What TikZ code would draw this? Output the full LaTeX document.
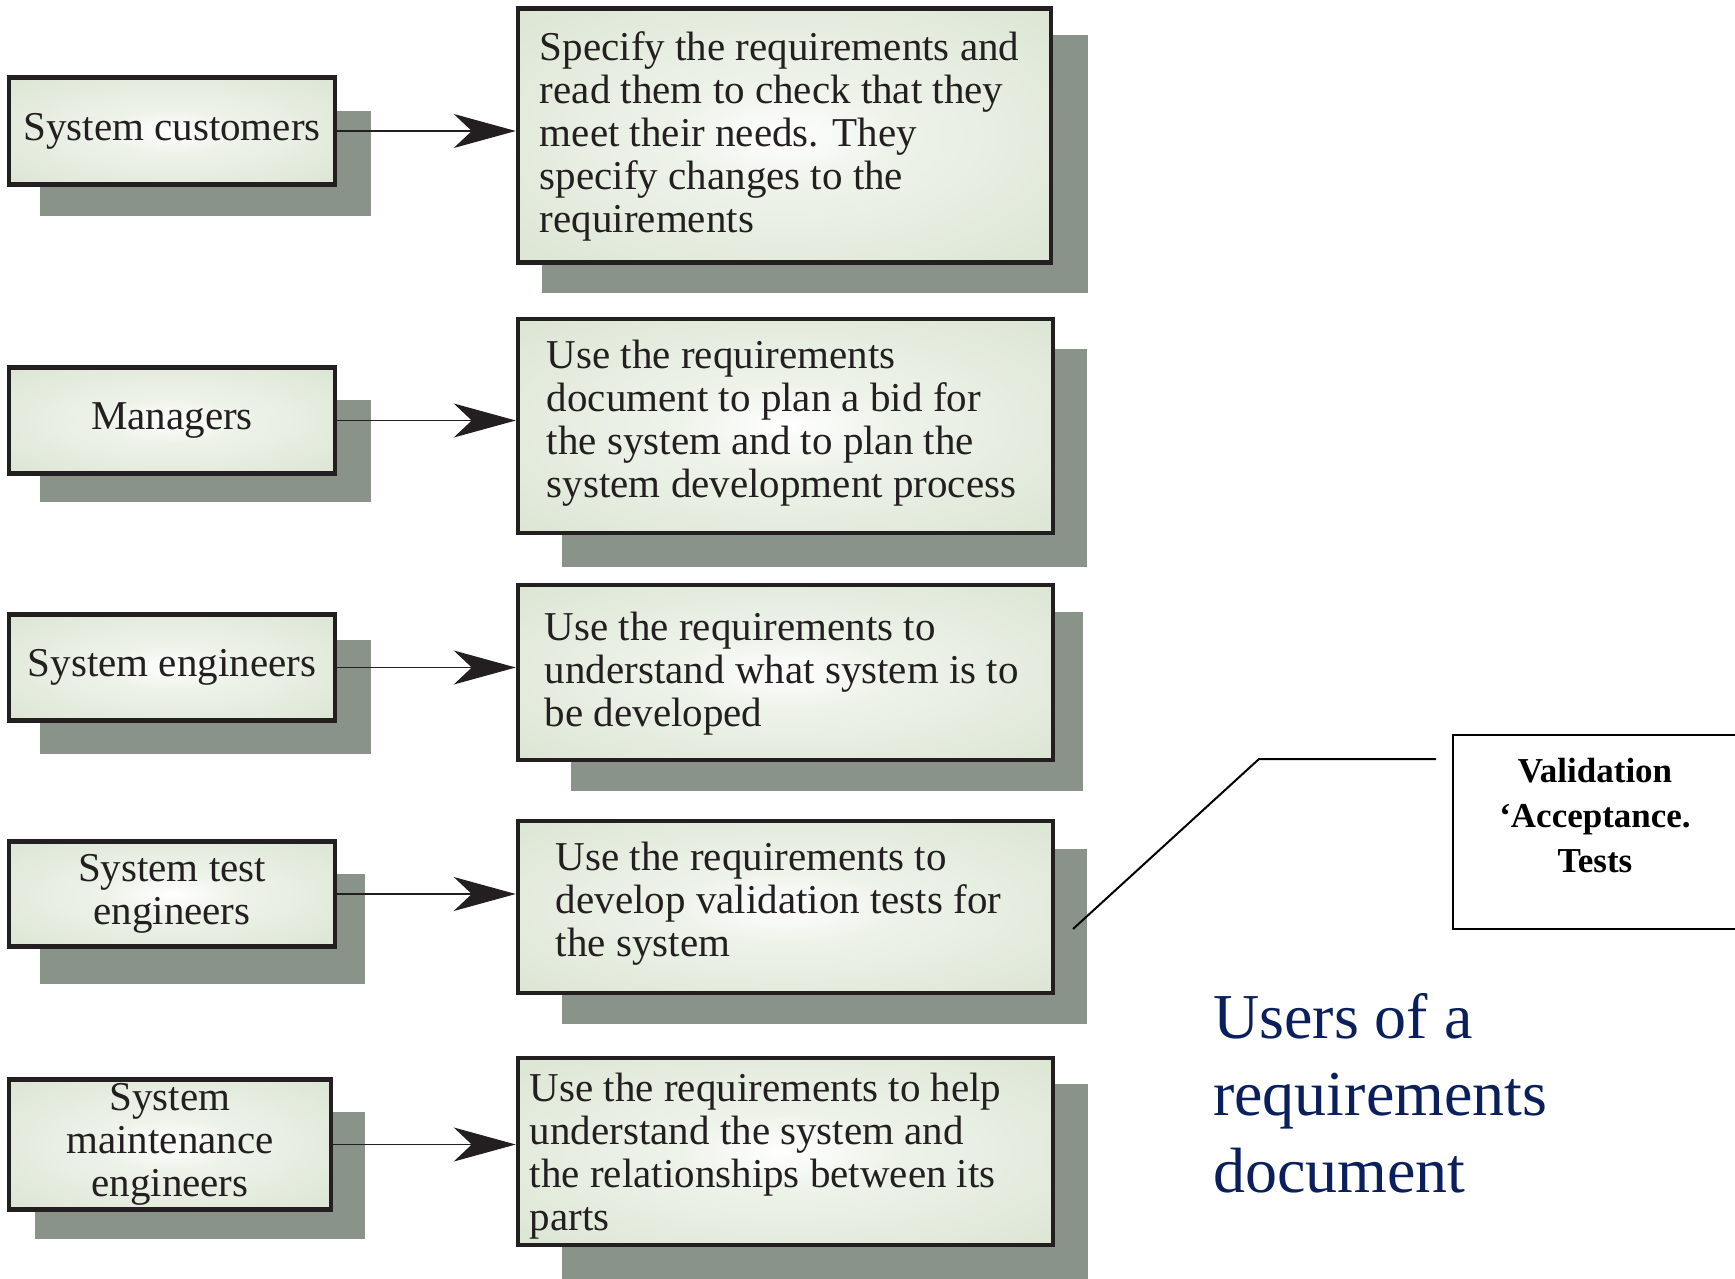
\documentclass[tikz,border=0pt]{standalone}
\usepackage{fontspec}
\setmainfont{Liberation Serif}
\usetikzlibrary{arrows.meta,calc}
\definecolor{inkc}{HTML}{231F20}
\definecolor{shadc}{HTML}{89938A}
\definecolor{fillA}{HTML}{FFFFFF}
\definecolor{fillB}{HTML}{EEF3EA}
\definecolor{fillC}{HTML}{D3DFC9}
\definecolor{navy}{HTML}{0B1F5C}
\pgfdeclareradialshading{greenglow}{\pgfpoint{0bp}{0bp}}{color(0bp)=(fillA); color(10bp)=(fillB); color(48bp)=(fillC); color(100bp)=(fillC)}
\begin{document}
\begin{tikzpicture}[x=1pt,y=-1pt,
  bx/.style={draw=inkc, line width=4.5pt, shading=greenglow, text=inkc, font=\fontsize{41}{43}\selectfont},
  lbox/.style={bx, align=center, inner sep=2pt},
  rbox/.style={bx},
  rtext/.style={anchor=west, align=left, inner sep=0pt, text=inkc, font=\fontsize{41}{43}\selectfont},
  shadowbox/.style={fill=shadc},
  conn/.style={draw=inkc, line width=1.3pt, -{Stealth[length=62pt,width=34pt,inset=18pt]}},
  valbox/.style={draw=black, line width=2.5pt},
  valtext/.style={align=center, inner sep=0pt, font=\fontsize{35}{45}\selectfont\bfseries},
  callout/.style={draw=black, line width=2pt},
  title/.style={anchor=west, align=left, inner sep=0pt, text=navy, font=\fontsize{64}{77}\selectfont},
]
\useasboundingbox (0,0) rectangle (1735,1279);
% shadows
\fill[shadowbox] (40,111) rectangle (371,216);
\fill[shadowbox] (40,400) rectangle (371,502);
\fill[shadowbox] (40,640) rectangle (371,754);
\fill[shadowbox] (40,874) rectangle (365,984);
\fill[shadowbox] (35,1112) rectangle (365,1239);
\fill[shadowbox] (542,35) rectangle (1088,293);
\fill[shadowbox] (562,349) rectangle (1087,567);
\fill[shadowbox] (571,612) rectangle (1083,791);
\fill[shadowbox] (562,849) rectangle (1087,1024);
\fill[shadowbox] (562,1084) rectangle (1088,1279);
% left boxes
\node[lbox, minimum width=326, minimum height=107] (l1) at (172,131) {System customers};
\node[lbox, minimum width=326, minimum height=106] (l2) at (172,420.5) {Managers};
\node[lbox, minimum width=326, minimum height=106] (l3) at (172,667.5) {System engineers};
\node[lbox, minimum width=326, minimum height=105] (l4) at (172,894) {System test\\engineers};
\node[lbox, minimum width=322, minimum height=130] (l5) at (170,1144.5) {System\\maintenance\\engineers};
% right boxes
\node[rbox, minimum width=533, minimum height=254] (r1) at (784.5,135.5) {};
\node[rbox, minimum width=535, minimum height=214] (r2) at (785.5,426) {};
\node[rbox, minimum width=535, minimum height=175] (r3) at (785.5,672.5) {};
\node[rbox, minimum width=535, minimum height=172] (r4) at (785.5,907) {};
\node[rbox, minimum width=535, minimum height=187] (r5) at (785.5,1151.5) {};
\node[rtext] (t1) at ($(r1.west)+(24,1)$) {Specify the requirements and\\read them to check that they\\meet their needs. They\\specify changes to the\\requirements};
\node[rtext] (t2) at ($(r2.west)+(31,-3)$) {Use the requirements\\document to plan a bid for\\the system and to plan the\\system development process};
\node[rtext] (t3) at ($(r3.west)+(29,1)$) {Use the requirements to\\understand what system is to\\be developed};
\node[rtext] (t4) at ($(r4.west)+(40,-3)$) {Use the requirements to\\develop validation tests for\\the system};
\node[rtext] (t5) at ($(r5.west)+(14,5)$) {Use the requirements to help\\understand the system and\\the relationships between its\\parts};
% connectors
\draw[conn] (l1.east) -- (l1.east -| r1.west);
\draw[conn] (l2.east) -- (l2.east -| r2.west);
\draw[conn] (l3.east) -- (l3.east -| r3.west);
\draw[conn] (l4.east) -- (l4.east -| r4.west);
\draw[conn] (l5.east) -- (l5.east -| r5.west);
% validation callout
\draw[valbox] (1453,735) rectangle (1745,929);
\node[valtext] (val) at (1595,816) {Validation\\‘Acceptance.\\Tests};
\coordinate (c1) at (1073,929);
\coordinate (c2) at (1259,759);
\coordinate (c3) at (1436,759);
\draw[callout] (c1) -- (c2) -- (c3);
% title
\node[title] (ttl) at (1213,1093) {Users of a\\requirements\\document};
\end{tikzpicture}
\end{document}
